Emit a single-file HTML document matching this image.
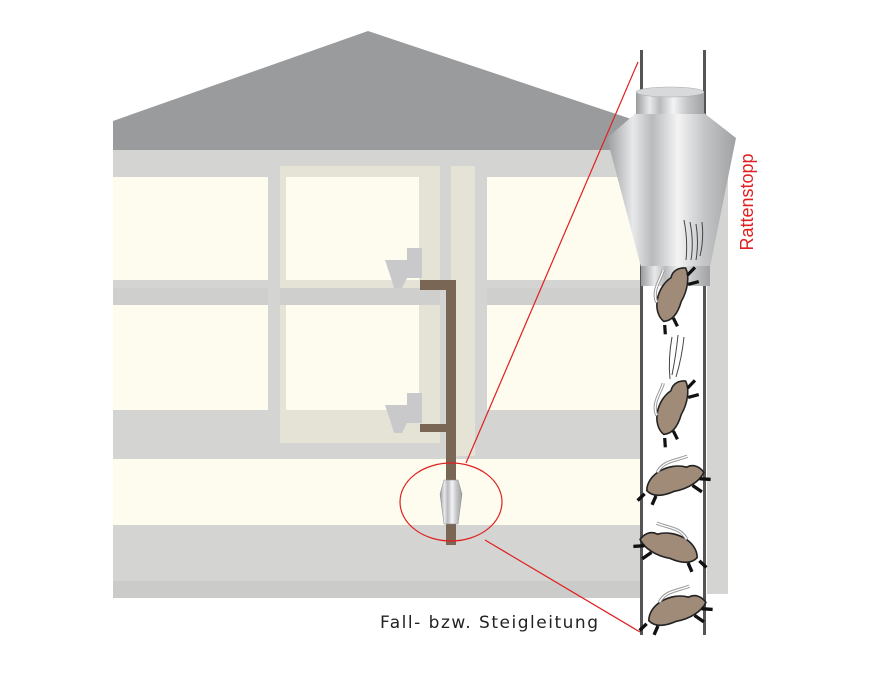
<!DOCTYPE html>
<html><head><meta charset="utf-8"><style>
html,body{margin:0;padding:0;background:#fff;}
svg{display:block}
</style></head><body>
<svg width="884" height="673" viewBox="0 0 884 673" xmlns="http://www.w3.org/2000/svg">
<defs>
<linearGradient id="met" x1="0" x2="1" y1="0" y2="0">
<stop offset="0" stop-color="#9a9c9e"/><stop offset="0.2" stop-color="#e8e9ea"/><stop offset="0.35" stop-color="#b8babc"/><stop offset="0.55" stop-color="#f4f4f4"/><stop offset="0.75" stop-color="#c4c6c8"/><stop offset="1" stop-color="#9fa1a3"/>
</linearGradient>
<g id="rat">
<path d="M-20,6 C-18,-6 0,-12 12,-6 C18,-8 22,-4 24,0 C20,6 10,10 0,10 C-8,12 -16,12 -20,6 Z" fill="#a08a78" stroke="#222" stroke-width="1.2"/>
<path d="M-10,-6 C-4,-14 6,-12 14,-14" fill="none" stroke="#999" stroke-width="2.5"/>
<path d="M-10,-6 C-4,-14 6,-12 14,-14" fill="none" stroke="#fff" stroke-width="1"/>
<path d="M-22,8 l-6,4 M-14,11 l-4,6 M14,8 l6,6 M20,4 l8,2" stroke="#111" stroke-width="2.5"/>
</g>
</defs>
<polygon points="113,121 368,31 640,122 640,150 113,150" fill="#9a9b9d"/>
<rect x="113" y="150" width="527" height="448" fill="#d4d4d2"/>
<rect x="707" y="138" width="21" height="456" fill="#d4d4d2"/>
<rect x="113" y="581" width="527" height="17" fill="#cbcbc9"/>
<rect x="280" y="166" width="160" height="277" fill="#e5e3d5"/>
<rect x="451" y="166" width="24" height="290" fill="#e5e3d5"/>
<rect x="113" y="177" width="155" height="103" fill="#fdfcee"/>
<rect x="286" y="177" width="133" height="103" fill="#fdfcee"/>
<rect x="487" y="177" width="153" height="103" fill="#fdfcee"/>
<rect x="113" y="288" width="155" height="17" fill="#cfcfcd"/>
<rect x="280" y="288" width="160" height="17" fill="#cfcfcd"/>
<rect x="487" y="288" width="153" height="17" fill="#cfcfcd"/>
<rect x="113" y="305" width="155" height="105" fill="#fdfcee"/>
<rect x="286" y="305" width="133" height="105" fill="#fdfcee"/>
<rect x="487" y="305" width="153" height="105" fill="#fdfcee"/>
<rect x="113" y="459" width="527" height="66" fill="#fdfcee"/>
<path d="M420,285 H451 V545" fill="none" stroke="#7a6654" stroke-width="10"/>
<path d="M420,428 H451" fill="none" stroke="#7a6654" stroke-width="8"/>
<g fill="#c9c9cb"><path d="M385,260 h22 v-12 h15 v30 h-15 l-5,10 h-8 l-3,-10 z"/></g>
<g fill="#c9c9cb"><path d="M385,405 h22 v-12 h15 v30 h-15 l-5,10 h-8 l-3,-10 z"/></g>
<path d="M444,480 h14 l4,14 l-4,30 h-14 l-4,-30 z" fill="url(#met)" stroke="#888" stroke-width="0.5"/>
<ellipse cx="451" cy="502" rx="51" ry="39" fill="none" stroke="#e02020" stroke-width="1.2"/>
<line x1="466" y1="463" x2="638" y2="62" stroke="#e02020" stroke-width="1.2"/>
<line x1="485" y1="540" x2="640" y2="632" stroke="#e02020" stroke-width="1.2"/>
<rect x="642" y="50" width="63" height="585" fill="#fff"/>
<rect x="640" y="50" width="3" height="585" fill="#555"/>
<rect x="703" y="50" width="3" height="585" fill="#555"/>
<path d="M636,113 L607,138 L641,267 H710 L736,138 L704,113 Z" fill="url(#met)"/>
<rect x="636" y="92" width="68" height="22" fill="url(#met)"/>
<ellipse cx="670" cy="92" rx="34" ry="5" fill="#d8d9da" stroke="#aaa" stroke-width="0.5"/>
<rect x="641" y="266" width="69" height="20" fill="url(#met)"/>
<path d="M684,220 q4,20 2,40 M690,222 q4,20 1,38 M696,224 q3,18 0,36 M702,222 q2,18 -2,34" stroke="#444" fill="none" stroke-width="1"/>
<path d="M672,337 q-4,22 -2,42 M678,335 q-2,20 -6,40 M684,337 q-2,20 -8,40" stroke="#444" fill="none" stroke-width="1"/>
<use href="#rat" transform="translate(670,295) rotate(-60) scale(1.3)"/>
<use href="#rat" transform="translate(670,408) rotate(-60) scale(1.3)"/>
<use href="#rat" transform="translate(672,478) rotate(-10) scale(1.35)"/>
<use href="#rat" transform="translate(672,545) scale(-1.35,1.35) rotate(-10)"/>
<use href="#rat" transform="translate(674,608) rotate(-10) scale(1.35)"/>
<text transform="translate(753,202) rotate(-90)" text-anchor="middle" font-family="Liberation Sans Narrow, Liberation Sans, sans-serif" font-size="18" fill="#e02020">Rattenstopp</text>
<text x="380" y="628" font-family="DejaVu Sans, Liberation Sans, sans-serif" font-size="17" fill="#222" textLength="218" lengthAdjust="spacing">Fall- bzw. Steigleitung</text>
</svg>
</body></html>
